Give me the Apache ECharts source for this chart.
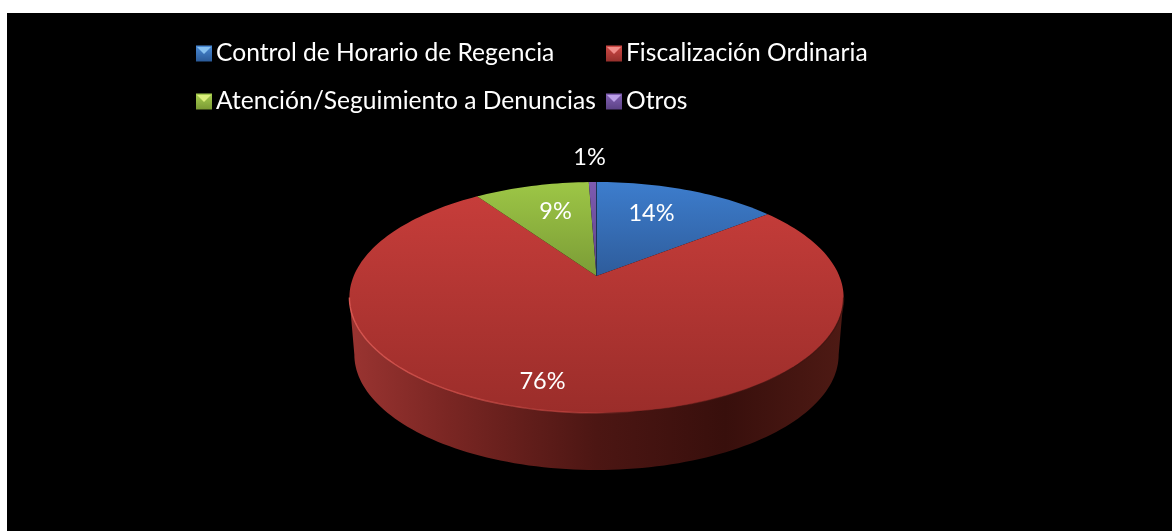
<!DOCTYPE html>
<html>
<head>
<meta charset="utf-8">
<style>html,body{margin:0;padding:0;background:#fff}#c{width:1172px;height:531px}</style>
<script src="https://cdn.jsdelivr.net/npm/echarts@6/dist/echarts.min.js"></script>
</head>
<body>
<div id="c"></div>
<script>
// Data (shares of 100; labels show them rounded)
const categories = ['Control de Horario de Regencia', 'Fiscalización Ordinaria', 'Atención/Seguimiento a Denuncias', 'Otros'];
const shares = [14.4, 76.0, 9.0, 0.6];

// Style
const FONT = 'Lato, "Open Sans", sans-serif';
const LABEL_SIZE = 23.5, LEGEND_SIZE = 24.6;
const topColors = [['#3d7dcd', '#2e5c9b'], ['#c63d3a', '#9b2d2a'], ['#9dc646', '#7b9c36'], ['#7d5bb0', '#5f4388']];
const legendColors = [['#4a8ad6', '#2a5a98'], ['#d04a46', '#96302c'], ['#a8cf50', '#7a9a34'], ['#8462b6', '#5c4285']];
const bevelColors = ['#86c0f0', '#f08c88', '#dcf07c', '#bca0e8'];
// label anchor, as an offset from the pie centre
const labelOffsets = [[55, -63], [-54, 105], [-41, -65], [-7, -119]];

// Perspective model of the tilted disc
const CX = 596.5, CY = 276, A = 242.8, B = 111.5, K = 0.186, DEPTH = 57, BOTTOM_SCALE = 0.98;
const rad = d => d * Math.PI / 180;
function pt(deg, lower) {
  const u = Math.sin(rad(deg)), v = Math.cos(rad(deg)), d = 1 + K * v;
  const s = lower ? BOTTOM_SCALE : 1;
  return [CX + s * A * u / d, CY + (lower ? DEPTH : 0) - B * v / d];
}
function arc(a0, a1, lower) {
  const n = Math.max(2, Math.ceil(Math.abs(a1 - a0) / 1.5)), out = [];
  for (let i = 0; i <= n; i++) out.push(pt(a0 + (a1 - a0) * i / n, lower));
  return out;
}
const total = shares.reduce((a, b) => a + b, 0);
const starts = shares.map((_, i) => shares.slice(0, i).reduce((a, b) => a + b, 0) * 360 / total);
const FRONT0 = 100.7, FRONT1 = 259.3;
const LG = echarts.graphic.LinearGradient;

function renderSlice(params) {
  const i = params.seriesIndex;
  const a0 = starts[i], a1 = a0 + shares[i] * 360 / total;
  const children = [];
  // outer wall, only where the slice faces the viewer
  const w0 = Math.max(a0, FRONT0), w1 = Math.min(a1, FRONT1);
  if (w1 > w0) {
    children.push({
      type: 'polygon', z2: 1, silent: true,
      shape: { points: arc(w0, w1, false).concat(arc(w1, w0, true)) },
      style: { fill: new LG(0, 0, 1, 0, [
        { offset: 0, color: '#9a3431' }, { offset: 0.2, color: '#7a2623' },
        { offset: 0.5, color: '#4c1613' }, { offset: 0.76, color: '#380f0c' },
        { offset: 1, color: '#4e1a14' }]) }
    });
  }
  // top face
  children.push({
    type: 'polygon', z2: 2,
    shape: { points: [[CX, CY]].concat(arc(a0, a1, false)) },
    style: { fill: new LG(0, 0, 0, 1, [{ offset: 0, color: topColors[i][0] }, { offset: 1, color: topColors[i][1] }]) }
  });
  // rim light on the front edge
  if (w1 > w0) {
    children.push({
      type: 'polyline', z2: 3, silent: true,
      shape: { points: arc(w0, w1, false) },
      style: { fill: null, lineWidth: 1.4, stroke: new LG(0, 0, 1, 0, [
        { offset: 0, color: 'rgba(226,92,86,0.9)' }, { offset: 0.48, color: 'rgba(205,75,70,0.55)' },
        { offset: 0.58, color: 'rgba(70,20,16,0.35)' }, { offset: 1, color: 'rgba(60,18,14,0.8)' }]) }
    });
  }
  if (i === 0) {
    children.push({
      type: 'line', z2: 4, silent: true,
      shape: { x1: CX, y1: CY, x2: CX, y2: pt(0, false)[1] },
      style: { stroke: '#1d3557', lineWidth: 1 }
    });
  }
  const o = labelOffsets[i];
  children.push({
    type: 'text', z2: 10, silent: true,
    style: { x: CX + o[0], y: CY + o[1], text: Math.round(shares[i]) + '%', fill: '#fff',
      font: LABEL_SIZE + 'px ' + FONT, align: 'center', verticalAlign: 'middle' }
  });
  return { type: 'group', children };
}

const legendItem = i => ({
  name: categories[i],
  itemStyle: { color: new LG(0, 0, 0, 1, [{ offset: 0, color: legendColors[i][0] }, { offset: 1, color: legendColors[i][1] }]) }
});
const legendBase = {
  orient: 'vertical', icon: 'rect', itemWidth: 16, itemHeight: 16, itemGap: 23, padding: 0,
  selectedMode: false, textStyle: { color: '#fff', fontSize: LEGEND_SIZE, fontFamily: FONT, padding: [0, 0, 0, -1] }
};
const bevel = (x, y, i) => ({
  type: 'polygon', silent: true, z: 20,
  shape: { points: [[x + 1, y + 1], [x + 15, y + 1], [x + 8, y + 8]] },
  style: { fill: bevelColors[i] }
});

const chart = echarts.init(document.getElementById('c'), null, { renderer: 'canvas' });
chart.setOption({
  animation: false,
  backgroundColor: '#fff',
  graphic: [
    { type: 'rect', silent: true, z: -10, shape: { x: 7, y: 13, width: 1165, height: 518 }, style: { fill: '#000' } },
    bevel(196, 46, 0), bevel(606, 46, 1), bevel(196, 94, 2), bevel(606, 94, 3)
  ],
  legend: [
    Object.assign({}, legendBase, { left: 196, top: 41, data: [legendItem(0), legendItem(2)] }),
    Object.assign({}, legendBase, { left: 606, top: 41, data: [legendItem(1), legendItem(3)] })
  ],
  series: categories.map((name, i) => ({
    name, type: 'custom', coordinateSystem: 'none', clip: false, z: 5,
    itemStyle: { color: topColors[i][0] },
    data: [[shares[i]]],
    renderItem: renderSlice
  }))
});
</script>
</body>
</html>
